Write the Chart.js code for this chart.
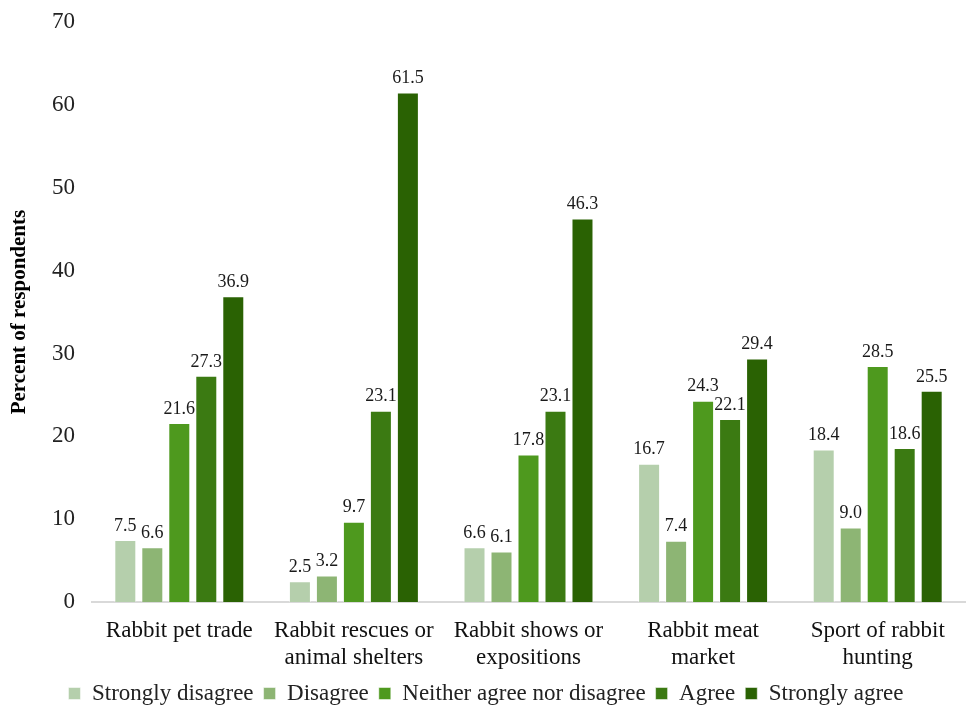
<!DOCTYPE html>
<html>
<head>
<meta charset="utf-8">
<script src="https://cdn.jsdelivr.net/npm/chart.js@4"></script>
<style>
html,body{margin:0;padding:0;background:#fff;}
#wrap{width:967px;height:705px;}
</style>
</head>
<body>
<div id="wrap"><canvas id="c" width="967" height="705"></canvas></div>
<script>
const categories = [
  ["Rabbit pet trade"],
  ["Rabbit rescues or", "animal shelters"],
  ["Rabbit shows or", "expositions"],
  ["Rabbit meat", "market"],
  ["Sport of rabbit", "hunting"]
];
const seriesNames = ["Strongly disagree", "Disagree", "Neither agree nor disagree", "Agree", "Strongly agree"];
const stronglyDisagree = [7.5, 2.5, 6.6, 16.7, 18.4];
const disagree = [6.6, 3.2, 6.1, 7.4, 9.0];
const neither = [21.6, 9.7, 17.8, 24.3, 28.5];
const agree = [27.3, 23.1, 23.1, 22.1, 18.6];
const stronglyAgree = [36.9, 61.5, 46.3, 29.4, 25.5];
const yTicks = [0, 10, 20, 30, 40, 50, 60, 70];
const colors = ["#b5cfac", "#8db574", "#4e991e", "#3b7a12", "#2a6203"];

const seriesValues = [stronglyDisagree, disagree, neither, agree, stronglyAgree];
const FONT = "'Liberation Serif', 'Times New Roman', serif";

const labelPlugin = {
  id: 'valueLabels',
  afterDatasetsDraw(chart) {
    const ctx = chart.ctx;
    ctx.save();
    ctx.font = "18px " + FONT;
    ctx.fillStyle = "#1a1a1a";
    ctx.textAlign = "center";
    ctx.textBaseline = "bottom";
    chart.data.datasets.forEach((ds, i) => {
      const meta = chart.getDatasetMeta(i);
      meta.data.forEach((el, j) => {
        ctx.fillText(ds.data[j].toFixed(1), el.x, el.y - 5);
      });
    });
    ctx.restore();
  }
};

new Chart(document.getElementById('c'), {
  type: 'bar',
  data: {
    labels: categories,
    datasets: seriesNames.map((n, i) => ({
      label: n,
      data: seriesValues[i],
      backgroundColor: colors[i],
      borderColor: "rgba(255,255,255,0.5)",
      borderWidth: 1,
      categoryPercentage: 0.773,
      barPercentage: 0.815
    }))
  },
  options: {
    responsive: false,
    animation: false,
    layout: { padding: { left: 7, right: 2, top: 0, bottom: -10 } },
    plugins: {
      legend: {
        position: 'bottom',
        labels: {
          boxWidth: 12, boxHeight: 12,
          font: { family: FONT, size: 23 },
          color: "#222",
          padding: 10
        }
      },
      tooltip: { enabled: false }
    },
    scales: {
      x: {
        grid: { display: false, drawTicks: false },
        border: { color: "#d9d9d9", width: 2 },
        ticks: {
          font: { family: FONT, size: 23, lineHeight: 1.15 },
          color: "#111",
          padding: 16,
          maxRotation: 0
        },
        afterFit(scale) { scale.height = 70; }
      },
      y: {
        min: 0, max: 70,
        afterBuildTicks(scale) { scale.ticks = yTicks.map(v => ({ value: v })); },
        grid: { display: false, drawTicks: false },
        border: { display: false },
        ticks: {
          font: { family: FONT, size: 23, lineHeight: 0.45 },
          color: "#222",
          padding: 17
        },
        title: {
          display: true,
          text: "Percent of respondents",
          font: { family: FONT, size: 21, weight: 'bold' },
          color: "#000",
          padding: { top: 0, bottom: 17 }
        },
        afterFit(scale) { scale.width = 85; }
      }
    }
  },
  plugins: [labelPlugin]
});
</script>
</body>
</html>
